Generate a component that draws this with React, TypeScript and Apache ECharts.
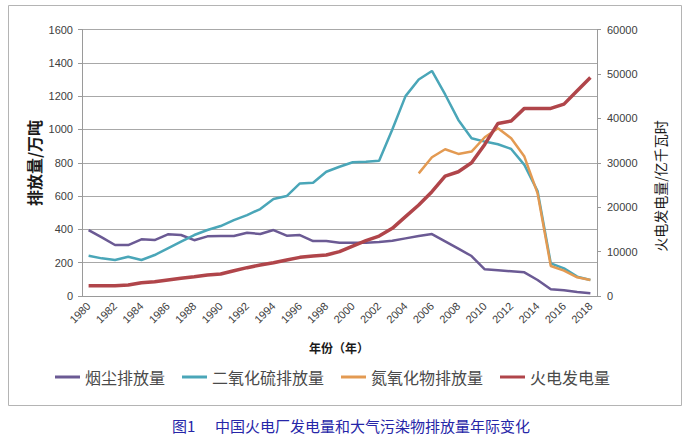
import React, { useEffect, useRef } from "react";
import * as echarts from "echarts";

const years = [
  "1980","1981","1982","1983","1984","1985","1986","1987","1988","1989",
  "1990","1991","1992","1993","1994","1995","1996","1997","1998","1999",
  "2000","2001","2002","2003","2004","2005","2006","2007","2008","2009",
  "2010","2011","2012","2013","2014","2015","2016","2017","2018",
];

const smoke = [
  396, 352, 306, 306, 340, 336, 370, 366, 335, 358,
  360, 360, 380, 372, 396, 362, 366, 330, 330, 320,
  320, 320, 324, 332, 346, 360, 372, 328, 284, 240,
  160, 154, 148, 142, 96, 40, 34, 24, 16,
];

const so2 = [
  242, 226, 216, 236, 216, 246, 286, 326, 366, 396,
  420, 456, 486, 522, 582, 600, 676, 680, 746, 776,
  803, 806, 812, 1000, 1200, 1300, 1351, 1210, 1057, 947,
  927, 911, 883, 787, 630, 196, 166, 116, 96,
];

const nox = [
  null, null, null, null, null, null, null, null, null, null,
  null, null, null, null, null, null, null, null, null, null,
  null, null, null, null, null, 736, 833, 881, 853, 867,
  953, 1007, 947, 837, 616, 180, 152, 112, 96,
];

const thermal = [
  2320, 2300, 2330, 2476, 2994, 3220, 3600, 3980, 4350, 4730,
  4950, 5700, 6380, 6980, 7500, 8100, 8700, 9000, 9230, 9980,
  11250, 12450, 13500, 15230, 17860, 20480, 23480, 27000, 27980, 30000,
  34130, 38850, 39400, 42240, 42240, 42240, 43200, 46200, 49200,
];

const seriesNames = ["烟尘排放量", "二氧化硫排放量", "氮氧化物排放量", "火电发电量"];
const colors = ["#6b5a94", "#4aa6b8", "#e39a52", "#b0454a"];

const leftTitle = "排放量/万吨";
const rightTitle = "火电发电量/亿千瓦时";
const xTitle = "年份（年）";
const captionFig = "图1";
const captionText = "中国火电厂发电量和大气污染物排放量年际变化";

const labelFont = "Liberation Sans, Arial, sans-serif";
const cjkFont = '"Noto Sans CJK SC", sans-serif';

export default function App() {
  const ref = useRef<HTMLDivElement>(null);

  useEffect(() => {
    if (!ref.current) return;
    const chart = echarts.init(ref.current, undefined, { renderer: "svg" });
    const lineSeries = (name: string, data: any[], color: string, yAxisIndex: number, width: number) => ({
      name,
      type: "line",
      data,
      yAxisIndex,
      symbol: "none",
      showSymbol: false,
      connectNulls: false,
      lineStyle: { color, width },
      itemStyle: { color },
    });
    const plain = (v: number) => String(v);
    chart.setOption({
      animation: false,
      backgroundColor: "#ffffff",
      grid: { left: 82, right: 91, top: 29.5, bottom: 145, containLabel: false },
      legend: {
        left: 50,
        top: 364,
        icon: "rect",
        itemWidth: 25,
        itemHeight: 3,
        itemGap: 17,
        data: seriesNames,
        textStyle: { fontSize: 16, fontFamily: cjkFont, color: "#4a4a4a" },
      },
      xAxis: {
        type: "category",
        data: years,
        boundaryGap: true,
        axisLine: { show: true, lineStyle: { color: "#9a9a9a", width: 1 } },
        axisTick: { show: false },
        axisLabel: {
          interval: 1,
          rotate: 45,
          margin: 8,
          fontSize: 11,
          fontFamily: labelFont,
          color: "#404040",
        },
        splitLine: { show: false },
      },
      yAxis: [
        {
          type: "value",
          min: 0,
          max: 1600,
          interval: 200,
          axisLine: { show: true, lineStyle: { color: "#9a9a9a" } },
          axisTick: { show: true, length: 4, lineStyle: { color: "#9a9a9a" } },
          axisLabel: { margin: 9, fontSize: 11, fontFamily: labelFont, color: "#404040", formatter: plain },
          splitLine: { show: true, lineStyle: { color: "#a8a8a8", width: 1 } },
        },
        {
          type: "value",
          min: 0,
          max: 60000,
          interval: 10000,
          position: "right",
          axisLine: { show: true, lineStyle: { color: "#9a9a9a" } },
          axisTick: { show: true, length: 4, lineStyle: { color: "#9a9a9a" } },
          axisLabel: { margin: 10, fontSize: 11, fontFamily: labelFont, color: "#404040", formatter: plain },
          splitLine: { show: false },
        },
      ],
      series: [
        lineSeries(seriesNames[0], smoke, colors[0], 0, 2.5),
        lineSeries(seriesNames[1], so2, colors[1], 0, 2.5),
        lineSeries(seriesNames[2], nox, colors[2], 0, 2.5),
        lineSeries(seriesNames[3], thermal, colors[3], 1, 3.5),
      ],
      graphic: [
        {
          type: "rect",
          silent: true,
          shape: { x: 8.5, y: 5.5, width: 673, height: 400 },
          style: { fill: "none", stroke: "#b4b4b4", lineWidth: 1 },
        },
        {
          type: "text",
          x: 34,
          y: 163,
          rotation: Math.PI / 2,
          style: {
            text: leftTitle,
            fontSize: 16,
            fontWeight: "bold",
            fontFamily: cjkFont,
            fill: "#1a1a1a",
            align: "center",
            verticalAlign: "middle",
            textAlign: "center",
            textVerticalAlign: "middle",
          },
        },
        {
          type: "text",
          x: 660,
          y: 186,
          rotation: Math.PI / 2,
          style: {
            text: rightTitle,
            fontSize: 14,
            fontFamily: cjkFont,
            fill: "#1a1a1a",
            align: "center",
            verticalAlign: "middle",
            textAlign: "center",
            textVerticalAlign: "middle",
          },
        },
        {
          type: "text",
          x: 339,
          y: 347,
          style: {
            text: xTitle,
            fontSize: 12,
            fontWeight: "bold",
            fontFamily: cjkFont,
            fill: "#1a1a1a",
            align: "center",
            verticalAlign: "middle",
            textAlign: "center",
            textVerticalAlign: "middle",
          },
        },
        {
          type: "text",
          x: 172,
          y: 425,
          style: {
            text: captionFig,
            fontSize: 15,
            fontFamily: cjkFont,
            fill: "#2626a8",
            align: "left",
            verticalAlign: "middle",
            textAlign: "left",
            textVerticalAlign: "middle",
          },
        },
        {
          type: "text",
          x: 215,
          y: 425,
          style: {
            text: captionText,
            fontSize: 15,
            fontFamily: cjkFont,
            fill: "#2626a8",
            align: "left",
            verticalAlign: "middle",
            textAlign: "left",
            textVerticalAlign: "middle",
          },
        },
      ],
    });
    return () => chart.dispose();
  }, []);

  return (
    <div
      ref={ref}
      style={{ position: "fixed", left: 0, top: 0, width: 688, height: 441, background: "#fff" }}
    />
  );
}
